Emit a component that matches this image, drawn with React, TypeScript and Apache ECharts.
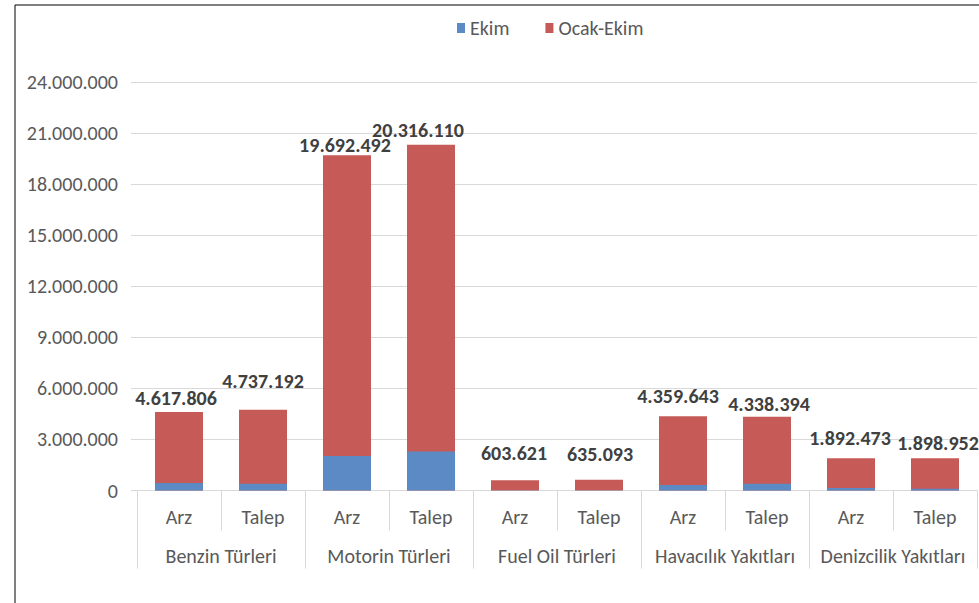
import React, { useEffect, useRef } from "react";
import * as echarts from "echarts";

const subCategories = ["Arz", "Talep", "Arz", "Talep", "Arz", "Talep", "Arz", "Talep", "Arz", "Talep"];
const groups = ["Benzin Türleri", "Motorin Türleri", "Fuel Oil Türleri", "Havacılık Yakıtları", "Denizcilik Yakıtları"];
const ekim = [440000, 400000, 2020000, 2290000, 15000, 15000, 320000, 400000, 150000, 100000];
const ocakEkim = [4617806, 4737192, 19692492, 20316110, 603621, 635093, 4359643, 4338394, 1892473, 1898952];
const yTicks = [0, 3000000, 6000000, 9000000, 12000000, 15000000, 18000000, 21000000, 24000000];

// label nudges (style only)
const labelOffsets: [number, number][] = [
  [-3, -4], [0, -19], [-2, 0], [-13, -5], [-1, -17], [1, -16], [-5, -10], [2, -3], [-1, -10], [3, -5],
];

const FONT = "Carlito, Calibri, Lato, sans-serif";
const fmt = (n: number) => Math.round(n).toString().replace(/\B(?=(\d{3})+(?!\d))/g, ".");

export default function App() {
  const ref = useRef<HTMLDivElement>(null);
  useEffect(() => {
    document.body.style.margin = "0";
    const chart = echarts.init(ref.current!, null, { renderer: "svg" });
    chart.setOption({
      animation: false,
      textStyle: { fontFamily: FONT },
      graphic: [
        {
          type: "rect",
          shape: { x: 15, y: 5, width: 1100, height: 800 },
          style: { fill: "none", stroke: "#000", lineWidth: 1 },
          silent: true,
          z: -1,
        },
      ],
      legend: {
        data: ["Ekim", "Ocak-Ekim"],
        top: 13,
        left: 452,
        icon: "rect",
        itemWidth: 8,
        itemHeight: 10,
        itemGap: 36,
        textStyle: { fontFamily: FONT, fontSize: 20, color: "#595959" },
      },
      grid: { left: 137, right: 2, top: 82, bottom: 112.5, containLabel: false },
      xAxis: [
        {
          type: "category",
          data: subCategories,
          position: "bottom",
          axisLine: { show: true, lineStyle: { color: "#d9d9d9", width: 1 } },
          axisTick: { show: true, interval: 0, length: 40, lineStyle: { color: "#d9d9d9" } },
          axisLabel: { interval: 0, margin: 16, fontSize: 20, color: "#595959", fontFamily: FONT },
        },
        {
          type: "category",
          data: groups,
          position: "bottom",
          axisLine: { show: false },
          axisTick: { show: true, interval: 0, length: 78, lineStyle: { color: "#d9d9d9" } },
          axisLabel: { interval: 0, margin: 55, fontSize: 20, color: "#595959", fontFamily: FONT },
        },
      ],
      yAxis: {
        type: "value",
        min: yTicks[0],
        max: yTicks[yTicks.length - 1],
        interval: yTicks[1] - yTicks[0],
        axisLine: { show: false },
        axisTick: { show: true, length: 6, lineStyle: { color: "#d9d9d9" } },
        splitLine: { lineStyle: { color: "#d9d9d9", width: 1 } },
        axisLabel: { margin: 19, fontSize: 20, color: "#595959", fontFamily: FONT, formatter: (v: number) => fmt(v) },
      },
      series: [
        {
          name: "Ocak-Ekim",
          type: "bar",
          xAxisIndex: 0,
          data: ocakEkim.map((v, i) => ({
            value: v,
            label: { offset: labelOffsets[i] },
          })),
          barWidth: 48,
          barGap: "-100%",
          z: 2,
          itemStyle: { color: "#C55A57" },
          label: {
            show: true,
            position: "top",
            distance: 0,
            fontSize: 20,
            fontWeight: "bold",
            color: "#404040",
            fontFamily: FONT,
            formatter: (p: any) => fmt(p.value),
          },
        },
        {
          name: "Ekim",
          type: "bar",
          xAxisIndex: 0,
          data: ekim,
          barWidth: 48,
          barGap: "-100%",
          z: 3,
          itemStyle: { color: "#5B8AC5" },
        },
      ],
    });
    return () => chart.dispose();
  }, []);
  return <div ref={ref} style={{ width: 979, height: 603 }} />;
}
